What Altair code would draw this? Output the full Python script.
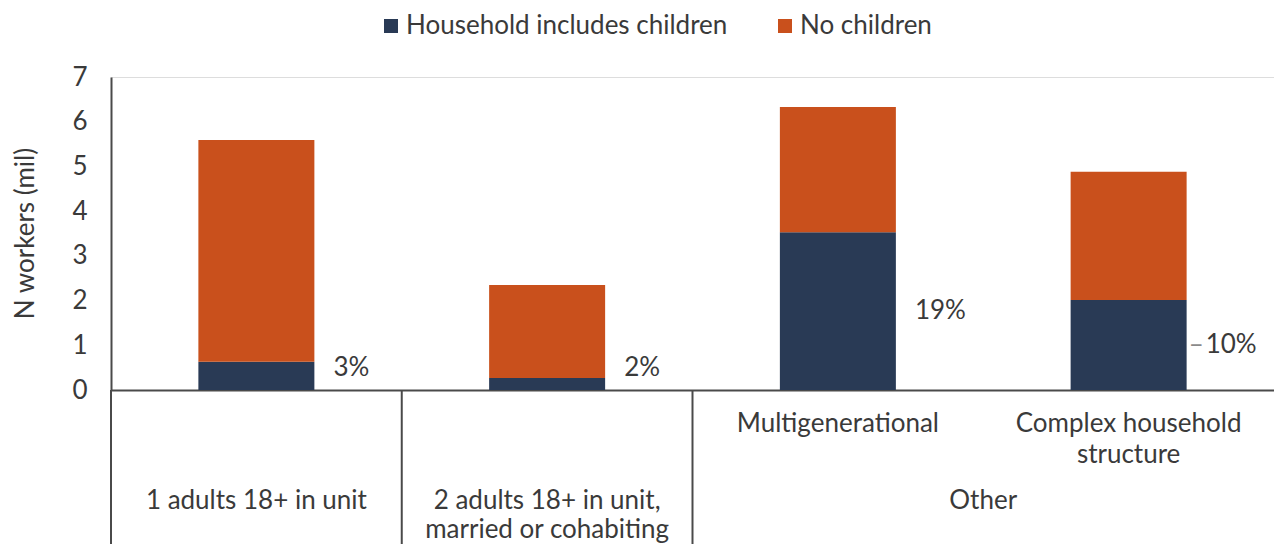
import altair as alt
import pandas as pd

# ---- data ----
sub_labels = ["", "", "Multigenerational", "Complex household\nstructure"]
with_children = [0.63, 0.27, 3.53, 2.01]
no_children = [4.96, 2.08, 2.80, 2.87]
pct_labels = ["3%", "2%", "19%", "10%"]
leader = [False, False, False, True]
group_names = ["1 adults 18+ in unit", "2 adults 18+ in unit,\nmarried or cohabiting", "Other"]
group_spans = [1, 1, 2]
series = ["Household includes children", "No children"]
colors = ["#293a55", "#c9501c"]

FONT = "Lato"
FS = 26
TXT = "#3a3a3a"
AXIS = "#4a4a4a"

rows = []
for i in range(len(with_children)):
    rows.append({"idx": i + 0.5, "series": series[0], "value": with_children[i], "ord": 0})
    rows.append({"idx": i + 0.5, "series": series[1], "value": no_children[i], "ord": 1})
bars_df = pd.DataFrame(rows)

lab_df = pd.DataFrame({
    "idx": [i + 0.5 for i in range(len(with_children))],
    "child": with_children,
    "pct": pct_labels,
    "sub": sub_labels,
    "leader": leader,
})

centers, seps, pos = [], [0], 0
for s in group_spans:
    centers.append(pos + s / 2)
    pos += s
    seps.append(pos)
grp_df = pd.DataFrame({"center": centers, "name": group_names})
sep_df = pd.DataFrame({"x": seps[:-1]})

xscale = alt.Scale(domain=[0, len(with_children)], nice=False, zero=False, padding=0)
yscale = alt.Scale(domain=[0, 7], nice=False)

bars = alt.Chart(bars_df).mark_bar(size=116).encode(
    x=alt.X("idx:Q", scale=xscale,
            axis=alt.Axis(title=None, labels=False, ticks=False, grid=False,
                          domain=True, domainColor=AXIS, domainWidth=2)),
    y=alt.Y("value:Q", stack="zero", scale=yscale,
            axis=alt.Axis(title="N workers (mil)", values=[0, 1, 2, 3, 4, 5, 6, 7],
                          grid=False, ticks=False, tickSize=0, labelPadding=24,
                          labelFontSize=FS, labelColor=TXT, labelFont=FONT,
                          domainColor=AXIS, domainWidth=2,
                          titleFont=FONT, titleFontSize=FS, titleFontWeight="normal",
                          titleColor=TXT, titleX=-86, titleY=156, titleAngle=-90,
                          titleAlign="center", titleBaseline="middle")),
    color=alt.Color("series:N", scale=alt.Scale(domain=series, range=colors),
                    legend=alt.Legend(title=None, orient="none", direction="horizontal",
                                      legendX=267, legendY=-64, symbolType="square",
                                      symbolSize=196, symbolStrokeWidth=0,
                                      labelFontSize=FS, labelFont=FONT, labelColor=TXT,
                                      labelOffset=2, columnPadding=44, labelLimit=0)),
    order=alt.Order("ord:Q"),
)

pct = alt.Chart(lab_df).transform_calculate(
    ly="max(datum.child / 2, 0.5)"
).mark_text(align="left", baseline="middle", dx=77, fontSize=FS, font=FONT, color=TXT).encode(
    x=alt.X("idx:Q", scale=xscale),
    y=alt.Y("ly:Q", scale=yscale),
    text="pct:N",
)

# leader line drawn as a short dash to the right of the bar
lead = alt.Chart(lab_df).transform_filter("datum.leader").transform_calculate(
    ly="datum.child / 2"
).mark_text(align="left", baseline="middle", dx=60, fontSize=FS, font=FONT, color="#8a8a8a").encode(
    x=alt.X("idx:Q", scale=xscale),
    y=alt.Y("ly:Q", scale=yscale),
    text=alt.value("–"),
)

sub = alt.Chart(lab_df).mark_text(align="center", baseline="alphabetic", fontSize=FS, font=FONT,
                                  color=TXT, lineBreak="\n", lineHeight=31).encode(
    x=alt.X("idx:Q", scale=xscale),
    y=alt.value(355),
    text="sub:N",
)

grp = alt.Chart(grp_df).mark_text(align="center", baseline="alphabetic", fontSize=FS, font=FONT,
                                  color=TXT, lineBreak="\n", lineHeight=29).encode(
    x=alt.X("center:Q", scale=xscale),
    y=alt.value(432),
    text="name:N",
)

seplines = alt.Chart(sep_df).mark_rule(color=AXIS, strokeWidth=2).encode(
    x=alt.X("x:Q", scale=xscale),
    y=alt.value(313),
    y2=alt.value(467),
)

chart = alt.layer(bars, pct, lead, sub, grp, seplines).properties(
    width=1163, height=313,
    autosize=alt.AutoSizeParams(type="none"),
    padding={"left": 111, "top": 77, "right": 0, "bottom": 154},
).configure_view(stroke=None).configure(background="white")

chart.save("out.html", embed_options={"renderer": "svg", "actions": False})
